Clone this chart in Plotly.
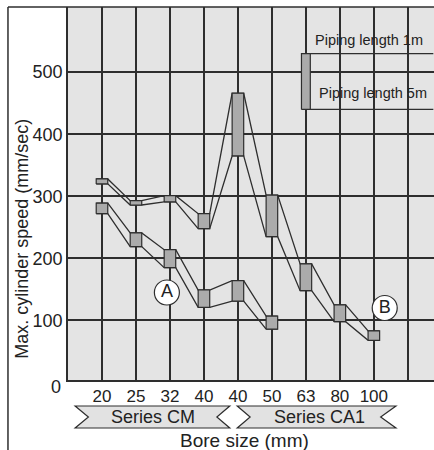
import plotly.graph_objects as go

# Bore sizes (Series CM: 20-40, Series CA1: 40-100)
bores = ["20", "25", "32", "40", "40", "50", "63", "80", "100"]

# Curve A: max speed with piping length 1m (top) and 5m (bottom)
a_1m = [289, 241, 214, 149, 164, 107]
a_5m = [272, 219, 185, 121, 131, 86]

# Curve B
b_1m = [328, 293, 301, 272, 466, 302, 191, 125, 83]
b_5m = [320, 286, 291, 248, 365, 235, 148, 98, 68]

y_ticks = [100, 200, 300, 400, 500]
legend_top, legend_bottom = 530, 440

INK = "#2e2e2e"
BOX = "#ababab"
FONT = "Liberation Sans, Arial, sans-serif"
HALF = 0.17  # half width of a speed band box, in category units

fig = go.Figure()


def edge_path(vals):
    xs, ys = [], []
    for i, v in enumerate(vals):
        xs += [i - HALF, i + HALF]
        ys += [v, v]
    return xs, ys


# connecting lines along the 1m and 5m edges
for vals in (a_1m, a_5m, b_1m, b_5m):
    xs, ys = edge_path(vals)
    fig.add_trace(go.Scatter(x=xs, y=ys, mode="lines",
                             line=dict(color=INK, width=1.3),
                             hoverinfo="skip", showlegend=False))

# speed band boxes
for top, bot in ((a_1m, a_5m), (b_1m, b_5m)):
    for i, (t, b) in enumerate(zip(top, bot)):
        fig.add_trace(go.Scatter(
            x=[i - HALF, i + HALF, i + HALF, i - HALF, i - HALF],
            y=[b, b, t, t, b], mode="lines", fill="toself",
            fillcolor=BOX, line=dict(color=INK, width=1.2),
            hoverinfo="skip", showlegend=False))

# legend key: box plus two leader lines
lx = 6.0
fig.add_trace(go.Scatter(
    x=[lx - 0.13, lx + 0.13, lx + 0.13, lx - 0.13, lx - 0.13],
    y=[legend_bottom, legend_bottom, legend_top, legend_top, legend_bottom],
    mode="lines", fill="toself", fillcolor=BOX,
    line=dict(color=INK, width=1.2), hoverinfo="skip", showlegend=False))
for v in (legend_top, legend_bottom):
    fig.add_trace(go.Scatter(x=[lx + 0.13, 9.75], y=[v, v], mode="lines",
                             line=dict(color=INK, width=1.3),
                             hoverinfo="skip", showlegend=False))

# curve markers A and B
fig.add_trace(go.Scatter(
    x=[1.91, 8.32], y=[145, 120], mode="markers+text", text=["A", "B"],
    textposition="middle center",
    textfont=dict(family=FONT, size=18, color="#222"),
    marker=dict(size=25, color="white", line=dict(color=INK, width=1.2)),
    hoverinfo="skip", showlegend=False))


def label(text, x, y, xref, yref, size, **kw):
    d = dict(x=x, y=y, xref=xref, yref=yref, text=text, showarrow=False,
             xanchor="center", yanchor="middle",
             font=dict(family=FONT, size=size, color="#222"))
    d.update(kw)
    return d


annotations = [
    label("Piping length 1m", 6.2, 552, "x", "y", 14.5, xanchor="left"),
    label("Piping length 5m", 6.32, 467, "x", "y", 14.5, xanchor="left"),
    label("0", -0.0137, -0.0188, "paper", "paper", 18, xanchor="right"),
    label("Max. cylinder speed (mm/sec)", -0.128, 0.379, "paper", "paper", 18,
          textangle=-90),
    label("Bore size (mm)", 4.2, -0.1635, "x", "paper", 19),
    label("Series CM", 1.5, -0.099, "x", "paper", 18),
    label("Series CA1", 6.4, -0.099, "x", "paper", 18),
]


def ribbon(x0, n0, x1, n1):
    top, mid, bot = -0.0697, -0.0992, -0.1287
    return (f"M {x0} {top} L {x1} {top} L {n1} {mid} L {x1} {bot} "
            f"L {x0} {bot} L {n0} {mid} Z")


shapes = [
    dict(type="path", xref="x", yref="paper", path=ribbon(-0.79, -0.4, 3.76, 3.38),
         fillcolor="#e2e2e2", line=dict(color=INK, width=1.2), layer="below"),
    dict(type="path", xref="x", yref="paper", path=ribbon(3.98, 4.36, 8.65, 8.2),
         fillcolor="#e2e2e2", line=dict(color=INK, width=1.2), layer="below"),
    # outer frame
    dict(type="line", xref="paper", yref="paper", x0=-0.164, x1=1.01, y0=1, y1=1,
         line=dict(color=INK, width=1.5)),
    dict(type="line", xref="paper", yref="paper", x0=-0.164, x1=-0.164, y0=1,
         y1=-0.2, line=dict(color=INK, width=1.5)),
]

fig.update_layout(
    width=434, height=450,
    margin=dict(l=68, r=0, t=7, b=70, pad=0),
    paper_bgcolor="white", plot_bgcolor="#e4e4e4",
    font=dict(family=FONT, color="#222"),
    annotations=annotations, shapes=shapes,
    xaxis=dict(range=[-1, 9.77], tickvals=list(range(10)),
               ticktext=bores + [""], showgrid=True, gridcolor=INK,
               gridwidth=1.5, showline=True, linecolor=INK, linewidth=1.6,
               zeroline=False, ticks="", tickfont=dict(size=17),
               fixedrange=True),
    yaxis=dict(range=[4, 605], tickvals=y_ticks, showgrid=True, gridcolor=INK,
               gridwidth=1.5, showline=True, linecolor=INK, linewidth=1.6,
               zeroline=False, ticks="", tickfont=dict(size=18),
               fixedrange=True),
)

fig.write_html("out.html")
